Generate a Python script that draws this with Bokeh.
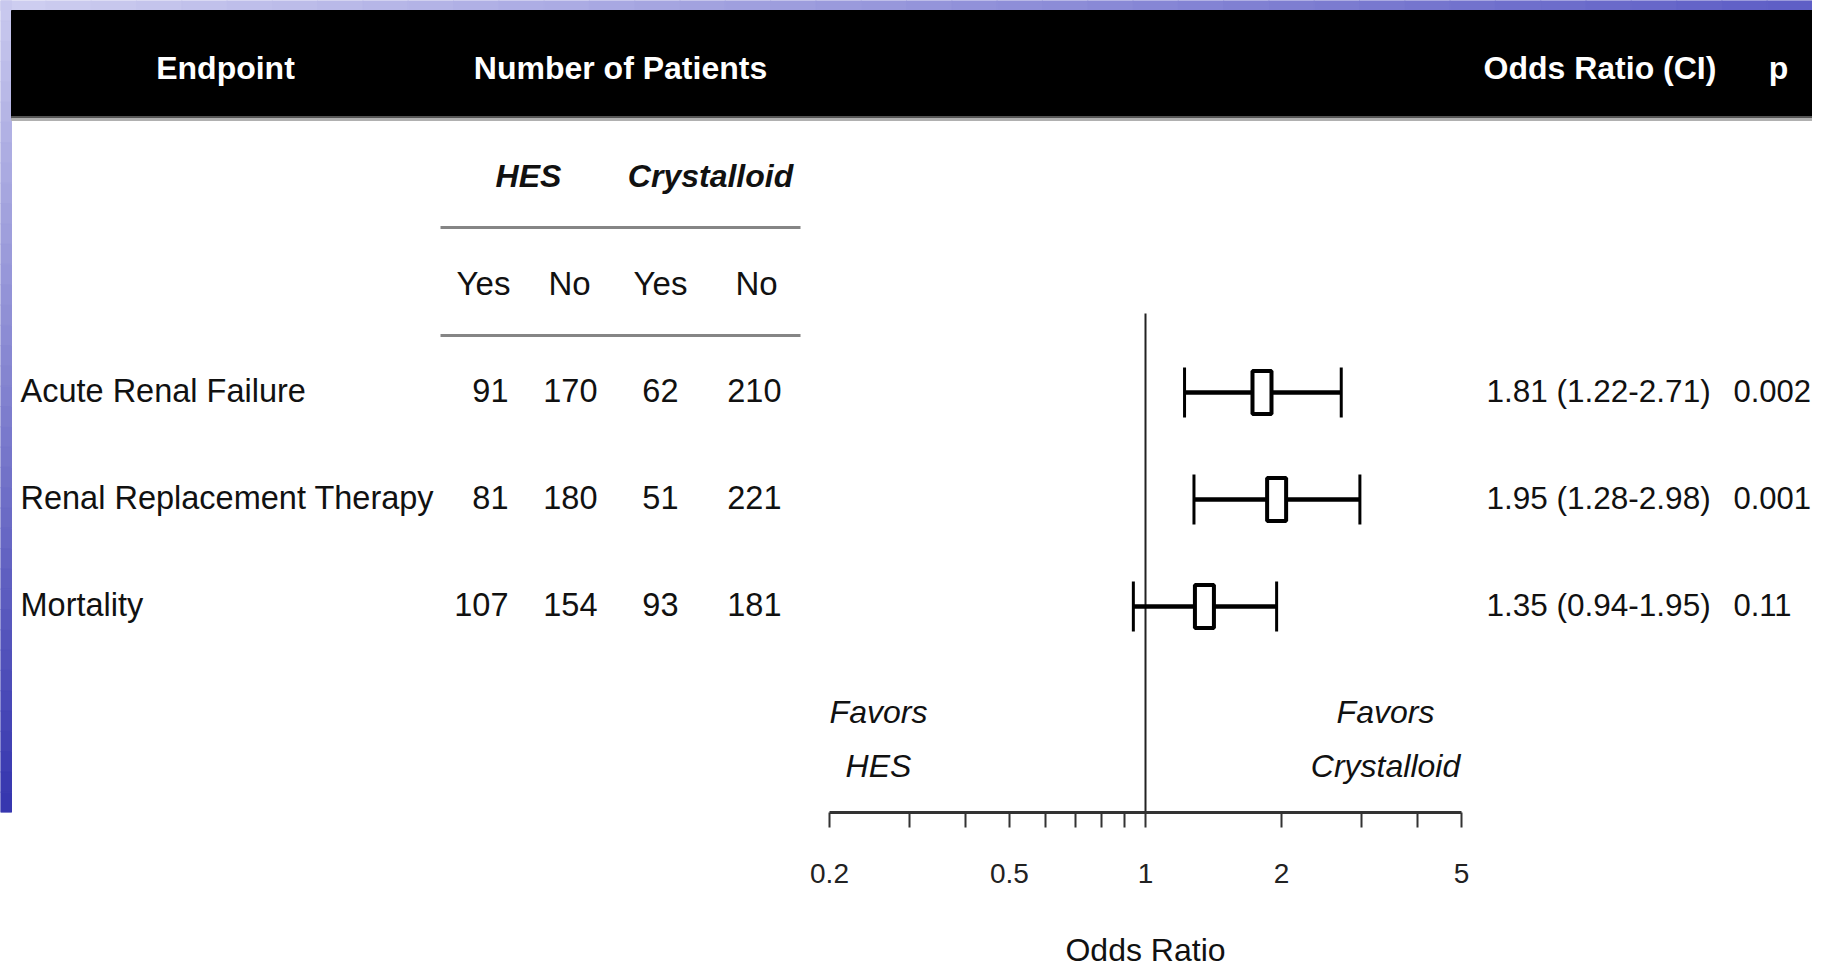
import math
from bokeh.plotting import figure
from bokeh.models import Range1d, LogScale, LogAxis, FixedTicker, CustomJSTickFormatter
from bokeh.core.properties import value
from bokeh.embed import file_html
from bokeh.resources import INLINE

# ---------------- data ----------------
endpoints = ["Acute Renal Failure", "Renal Replacement Therapy", "Mortality"]
hes_yes = [91, 81, 107]
hes_no = [170, 180, 154]
cry_yes = [62, 51, 93]
cry_no = [210, 221, 181]
odds_ratio = [1.81, 1.95, 1.35]
ci_low = [1.22, 1.28, 0.94]
ci_high = [2.71, 2.98, 1.95]
p_values = ["0.002", "0.001", "0.11"]
ci_labels = ["1.81 (1.22-2.71)", "1.95 (1.28-2.98)", "1.35 (0.94-1.95)"]
col_headers = ["Endpoint", "Number of Patients", "Odds Ratio (CI)", "p"]
group_labels = ["HES", "Crystalloid"]
sub_labels = ["Yes", "No", "Yes", "No"]
major_ticks = [0.2, 0.5, 1, 2, 5]
minor_ticks = [0.3, 0.4, 0.6, 0.7, 0.8, 0.9, 3, 4]
favors_left = ["Favors", "HES"]
favors_right = ["Favors", "Crystalloid"]
x_label = "Odds Ratio"

# ---------------- layout (pixel units of the picture) ----------------
FNAME = "Liberation Sans"
FONT = value(FNAME)
W, H = 1812, 955
X0, X1 = 0, W             # frame horizontal extent
Y0, Y1 = 0, 812           # frame vertical extent; axis sits at Y1
AX_L, AX_R = 829, 1461    # pixel positions of 0.2 and 5
ppd = (AX_R - AX_L) / math.log10(major_ticks[-1] / major_ticks[0])
or_lo = 10 ** (math.log10(major_ticks[0]) - (AX_L - X0) / ppd)
or_hi = 10 ** (math.log10(major_ticks[-1]) + (X1 - AX_R) / ppd)

row_y = [392 + 107 * i for i in range(len(endpoints))]
row_base = [y - 2 for y in row_y]
TXT = "#111111"

p = figure(frame_width=X1 - X0, frame_height=Y1 - Y0,
           x_range=Range1d(X0, X1), y_range=Range1d(Y1, Y0),
           x_axis_location=None, y_axis_location=None,
           toolbar_location=None, output_backend="svg",
           min_border_left=0, min_border_right=0, min_border_top=0,
           min_border_bottom=H - (Y1 - Y0))
p.outline_line_color = None
p.grid.visible = False
p.background_fill_color = "white"
p.border_fill_color = "white"

p.extra_x_ranges = {"or": Range1d(or_lo, or_hi)}
p.extra_x_scales = {"or": LogScale()}

# slide decoration: blue gradient bands
n = 40
def lerp(c1, c2, t):
    return "#%02x%02x%02x" % tuple(int(a + (b - a) * t) for a, b in zip(c1, c2))
top_l = [X0 + (X1 - X0) * i / n for i in range(n)]
top_r = [X0 + (X1 - X0) * (i + 1) / n for i in range(n)]
top_c = [lerp((205, 205, 240), (95, 95, 198), i / (n - 1)) for i in range(n)]
p.quad(left=top_l, right=top_r, top=[Y0] * n, bottom=[10] * n, color=top_c)
lt = [Y0 + (Y1 - Y0) * i / n for i in range(n)]
lb = [Y0 + (Y1 - Y0) * (i + 1) / n for i in range(n)]
lc = [lerp((200, 200, 238), (55, 55, 175), i / (n - 1)) for i in range(n)]
p.quad(left=[X0] * n, right=[11] * n, top=lt, bottom=lb, color=lc)

# black header
p.quad(left=[11], right=[X1], top=[10], bottom=[116], color="black")
p.quad(left=[11], right=[X1], top=[116], bottom=[118], color="#555555")
p.quad(left=[11], right=[X1], top=[118], bottom=[120], color="#b0b0b0")

hdr_x = [225, 620, 1483, 1778]
hdr_align = ["center", "center", "left", "center"]
for t, x, a in zip(col_headers, hdr_x, hdr_align):
    p.text(x=[x], y=[67], text=[t], text_font=FONT, text_font_size="32px",
           text_font_style="bold", text_color="white", text_align=a,
           text_baseline="alphabetic")

# group headers
p.text(x=[528, 710], y=[175, 175], text=group_labels, text_font=FONT,
       text_font_size="32px", text_font_style="bold italic", text_color=TXT,
       text_align="center", text_baseline="alphabetic")
p.segment(x0=[440, 440], x1=[800, 800], y0=[227, 335], y1=[227, 335],
          line_color="#858585", line_width=3)
p.text(x=[483, 569, 660, 756], y=[283] * 4, text=sub_labels, text_font=FONT,
       text_font_size="33px", text_color=TXT, text_align="center",
       text_baseline="alphabetic")

# row labels
p.text(x=[20] * len(endpoints), y=row_base, text=endpoints, text_font=FONT,
       text_font_size="32.5px", text_color=TXT, text_align="left",
       text_baseline="alphabetic")

# counts (right aligned columns)
for col, xr in zip([hes_yes, hes_no, cry_yes, cry_no], [508, 597, 678, 781]):
    p.text(x=[xr] * len(col), y=row_base, text=[str(v) for v in col],
           text_font=FONT, text_font_size="32.5px", text_color=TXT,
           text_align="right", text_baseline="alphabetic")

# OR (CI) and p
p.text(x=[1486] * 3, y=row_base, text=ci_labels, text_font=FONT,
       text_font_size="31.5px", text_color=TXT, text_align="left",
       text_baseline="alphabetic")
p.text(x=[1733] * 3, y=row_base, text=p_values, text_font=FONT,
       text_font_size="31px", text_color=TXT, text_align="left",
       text_baseline="alphabetic")

# reference line at OR = 1
p.segment(x0=[1], x1=[1], y0=[313], y1=[Y1], x_range_name="or",
          line_color="#222222", line_width=2)

# forest plot
p.segment(x0=ci_low, x1=ci_high, y0=row_y, y1=row_y, x_range_name="or",
          line_color="black", line_width=4.5)
p.segment(x0=ci_low, x1=ci_low, y0=[y - 25 for y in row_y], y1=[y + 25 for y in row_y],
          x_range_name="or", line_color="black", line_width=3)
p.segment(x0=ci_high, x1=ci_high, y0=[y - 25 for y in row_y], y1=[y + 25 for y in row_y],
          x_range_name="or", line_color="black", line_width=3)
p.rect(x=odds_ratio, y=row_y, width=19, height=43, width_units="screen",
       height_units="screen", x_range_name="or", fill_color="white",
       line_color="black", line_width=4)

# favors labels
for t, yb in zip(favors_left, [711, 765]):
    p.text(x=[878], y=[yb], text=[t], text_font=FONT, text_font_size="32px",
           text_font_style="italic", text_color=TXT, text_align="center",
           text_baseline="alphabetic")
for t, yb in zip(favors_right, [711, 765]):
    p.text(x=[1385], y=[yb], text=[t], text_font=FONT, text_font_size="32px",
           text_font_style="italic", text_color=TXT, text_align="center",
           text_baseline="alphabetic")

# log axis
ax = LogAxis(x_range_name="or",
             ticker=FixedTicker(ticks=major_ticks, minor_ticks=minor_ticks),
             formatter=CustomJSTickFormatter(code="return String(tick)"),
             bounds=(major_ticks[0], major_ticks[-1]))
ax.axis_line_width = 3
ax.axis_line_color = "#333333"
ax.major_tick_in = 0
ax.major_tick_out = 15
ax.major_tick_line_width = 2
ax.major_tick_line_color = "#333333"
ax.minor_tick_in = 0
ax.minor_tick_out = 15
ax.minor_tick_line_width = 2
ax.minor_tick_line_color = "#333333"
ax.major_label_text_font = FNAME
ax.major_label_text_font_size = "28px"
ax.major_label_text_color = "#222222"
ax.major_label_standoff = 36
p.add_layout(ax, "below")

# axis title, centred on OR = 1 through a second (line-less) axis
ax2 = LogAxis(x_range_name="or",
              ticker=FixedTicker(ticks=[1], minor_ticks=[]),
              formatter=CustomJSTickFormatter(args=dict(lbl=x_label), code="return lbl"))
ax2.axis_line_color = None
ax2.major_tick_line_color = None
ax2.minor_tick_line_color = None
ax2.major_tick_out = 0
ax2.major_tick_in = 0
ax2.major_label_text_font = FNAME
ax2.major_label_text_font_size = "32px"
ax2.major_label_text_color = TXT
ax2.major_label_standoff = 46
p.add_layout(ax2, "below")

open("out.html", "w").write(file_html(p, INLINE))
